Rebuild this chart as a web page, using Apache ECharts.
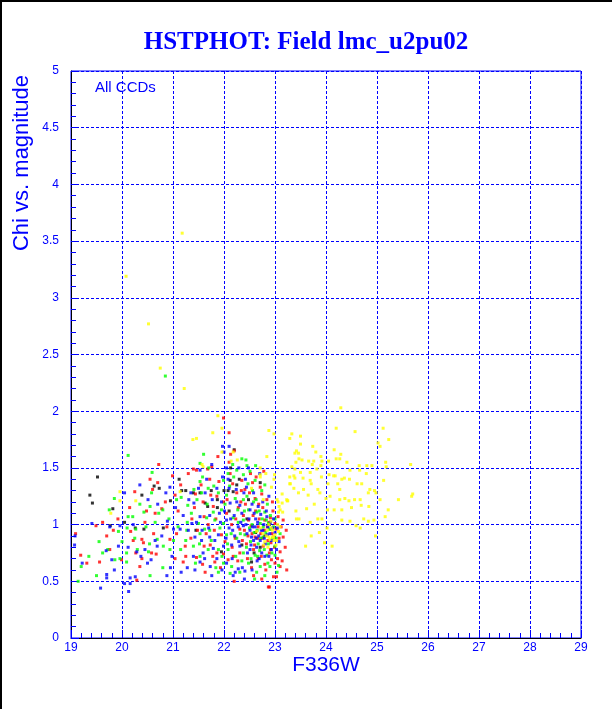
<!DOCTYPE html>
<html><head><meta charset="utf-8">
<script src="https://cdn.jsdelivr.net/npm/echarts@6/dist/echarts.min.js"></script>
<style>html,body{margin:0;padding:0;background:#fff}#c{width:612px;height:709px}</style>
</head><body><div id="c"></div>
<script>
const titleText = "HSTPHOT: Field lmc_u2pu02";
const xName = "F336W";
const yName = "Chi vs. magnitude";
const noteText = "All CCDs";

const blackPts = [[19.52,1.42],[19.37,1.26],[19.42,1.19],[19.82,1.14],[19.77,0.99],[20.26,0.97],[20.39,1.26],[20.63,1.34],[20.73,1.32],[20.43,0.96],[20.81,0.97],[20.95,1.21],[21.12,1.40],[21.17,1.30],[21.25,1.30],[21.40,1.28],[21.53,1.28],[21.63,1.19],[21.68,1.16],[21.87,1.15],[21.87,1.22],[21.95,0.76],[22.00,1.30],[22.08,1.30],[22.12,1.39],[22.13,1.50],[22.18,1.29],[22.20,1.66],[22.30,1.40],[22.54,0.67],[22.59,0.75],[22.71,1.37],[22.71,0.80],[22.89,1.00],[22.45,1.05],[22.62,0.93],
[21.45,0.95],[21.75,1.30],[22.25,1.35],[22.48,1.22],[22.80,0.90],[22.10,1.12],[22.35,0.82],[20.05,1.02]];

const redPts = [[19.09,0.92],[19.19,0.73],[19.31,0.66],[19.49,0.99],[19.56,0.67],[19.70,0.90],[19.76,0.78],[19.83,0.95],[19.99,0.69],[20.17,0.94],[20.22,0.86],[20.25,1.29],[20.27,0.75],[20.29,0.51],[20.35,0.63],[20.39,0.87],[20.39,0.70],[20.42,0.84],[20.48,1.12],[20.58,0.75],[20.60,1.31],[20.65,1.10],[20.67,0.74],[20.70,1.37],[20.72,1.53],[20.78,1.14],[20.88,0.98],[20.94,0.87],[20.99,1.43],[21.04,1.26],[21.04,0.70],[21.07,0.92],[21.10,1.12],[21.20,0.67],[21.24,0.81],[21.25,0.72],
[21.37,1.05],[21.40,1.49],[21.44,1.27],[21.46,1.48],[21.46,0.71],[21.59,1.20],[21.61,1.07],[21.61,0.81],[21.63,0.58],[21.68,1.49],[21.69,1.00],[21.73,0.82],[21.74,1.26],[21.76,1.51],[21.79,1.16],[21.81,0.95],[21.82,0.67],[21.86,1.25],[21.86,0.75],[21.95,0.91],[21.99,1.20],[21.99,0.74],[21.99,1.94],[22.08,0.69],[22.10,1.55],[22.10,1.81],[22.13,1.62],[22.15,1.00],[22.17,1.36],[22.18,0.72],[22.20,1.65],[22.25,1.28],[22.28,1.15],[22.31,0.96],[22.31,0.75],[22.35,1.39],[22.38,1.08],[22.41,1.31],[22.44,0.83],[22.46,0.70],[22.48,1.04],[22.53,0.99],[22.56,1.37],[22.58,0.78],[22.61,1.23],[22.61,0.89],[22.67,0.98],[22.67,0.70],[22.71,1.33],[22.72,0.92],[22.74,1.27],[22.77,0.81],[22.80,1.04],[22.80,0.65],[22.89,0.75],[22.89,0.45],[22.91,1.06],[22.93,0.69],[22.97,0.54],[22.97,0.89],[23.00,1.01],[23.00,0.66],[23.03,0.54],[23.06,1.07],[23.10,0.63],[23.10,0.76],[23.16,1.04],[23.16,0.89],[23.20,0.80],[23.22,0.95],[23.23,0.60],[22.87,0.45],
[22.62,1.12],[22.85,0.98],[22.75,0.88],[22.55,0.92],[22.92,0.84],[22.68,1.18],[22.40,0.95],[22.33,1.20],[22.22,0.88],[22.05,1.10],[22.78,1.47],[22.52,1.45],[22.95,1.20],
[21.35,0.88],[21.42,1.15],[21.48,0.95],[21.55,1.35],[21.58,0.65],[21.65,0.92],[21.72,1.40],[21.78,0.72],[21.84,1.05],[21.90,1.38],[21.93,0.62],[22.02,0.85],[22.06,1.22],[22.12,1.45],[22.16,0.80],[22.23,1.05],[22.27,0.68],[22.34,1.30],[22.36,0.86],[22.42,1.18],[22.47,0.90],[22.50,1.28],[22.54,0.62],[22.57,1.08],[22.60,0.82],[22.63,1.42],[22.66,0.88],[22.69,1.05],[22.73,0.72],[22.76,1.15],[22.79,0.95],[22.82,0.60],[22.84,1.22],[22.86,0.86],[22.88,1.02],[22.91,0.78],[22.94,0.92],[22.96,1.12],[22.99,0.80],[23.02,0.96],[23.05,0.70],[23.08,0.88],[23.12,0.98],[23.14,0.68],[22.58,0.55],[22.74,0.52],[22.20,0.50],[21.88,1.60],[20.45,1.02],[20.62,0.92],[20.85,1.20],[20.15,1.15],[19.92,1.05],[21.15,1.35],[21.30,1.45],[20.55,1.40],[19.62,1.02]];

const greenPts = [[19.14,0.50],[19.20,0.63],[19.35,0.72],[19.50,0.55],[19.62,0.75],[19.72,0.78],[19.75,1.13],[19.85,1.23],[19.86,0.69],[19.93,0.94],[19.96,0.70],[20.09,0.75],[20.09,0.67],[20.10,0.97],[20.12,1.61],[20.12,1.07],[20.21,1.07],[20.27,0.96],[20.30,0.78],[20.43,1.11],[20.47,0.98],[20.52,0.76],[20.54,0.83],[20.55,1.16],[20.55,0.55],[20.58,1.28],[20.59,1.46],[20.69,0.87],[20.72,1.10],[20.80,1.13],[20.81,0.81],[20.94,0.78],[21.01,0.86],[21.07,1.22],[21.15,0.78],[21.16,1.24],[21.25,0.86],[21.27,0.95],[21.28,1.02],[21.29,1.17],[20.85,2.31],
[21.40,0.81],[21.41,1.31],[21.50,1.01],[21.53,1.54],[21.53,1.38],[21.53,0.92],[21.53,0.72],[21.56,1.28],[21.66,1.06],[21.69,1.32],[21.69,0.78],[21.70,1.50],[21.72,0.95],[21.79,1.11],[21.82,1.04],[21.89,1.28],[21.89,0.78],[21.89,0.58],[21.95,1.13],[21.99,1.39],[21.99,1.01],[21.99,0.66],[22.05,1.26],[22.05,0.91],[22.08,1.45],[22.08,0.78],[22.12,0.57],[22.15,0.63],[22.17,1.53],[22.18,1.06],[22.22,1.23],[22.25,0.88],[22.31,0.58],[22.35,1.58],[22.38,1.44],[22.38,1.22],[22.38,1.04],[22.38,0.75],[22.41,0.91],[22.43,1.57],[22.48,1.13],[22.48,0.66],[22.51,1.47],[22.61,1.39],[22.61,0.73],[22.64,1.11],[22.64,0.58],[22.67,0.83],[22.71,1.01],[22.71,0.63],[22.77,0.89],[22.80,1.35],[22.80,1.11],[22.84,0.73],[22.87,1.01],[22.87,0.83],[22.90,0.63],[23.00,1.05],[23.00,0.81],[23.00,0.73],[23.07,0.64],
[22.55,1.00],[22.65,0.95],[22.75,1.05],[22.82,0.93],[22.92,0.96],[22.58,1.20],[22.45,1.25],[22.28,1.02],[22.70,0.77],[22.95,0.88],[22.52,0.85],[22.85,1.18],[21.60,1.62],[22.25,1.48],[22.62,1.52],
[21.36,1.10],[21.44,0.66],[21.47,1.22],[21.52,0.83],[21.58,1.42],[21.62,0.96],[21.67,1.18],[21.75,0.86],[21.80,1.34],[21.84,0.62],[21.92,0.97],[21.96,0.72],[22.02,1.18],[22.07,0.83],[22.11,1.34],[22.14,0.92],[22.19,1.42],[22.23,0.72],[22.27,1.13],[22.32,0.92],[22.35,0.68],[22.40,1.12],[22.44,0.80],[22.47,1.36],[22.50,0.97],[22.53,0.70],[22.56,1.30],[22.59,0.93],[22.63,1.22],[22.66,0.72],[22.69,1.12],[22.72,0.88],[22.74,1.30],[22.77,0.98],[22.79,0.78],[22.83,1.04],[22.86,0.66],[22.89,0.96],[22.91,1.08],[22.94,0.75],[22.97,0.98],[23.02,0.88],[23.04,0.58],[23.10,0.92],[22.60,0.52],[22.80,0.55],[22.45,1.52],[20.35,1.18],[20.65,1.02],[20.25,0.88],[20.92,1.05],[21.10,0.98],[19.55,0.85],[20.00,0.85],[20.80,0.62]];

const bluePts = [[19.07,0.82],[19.08,0.90],[19.22,0.66],[19.41,1.01],[19.58,0.44],[19.69,0.77],[19.70,0.53],[19.70,0.56],[19.76,0.98],[19.80,0.69],[19.93,0.81],[19.96,0.99],[20.05,1.28],[20.05,0.48],[20.12,0.80],[20.13,0.41],[20.16,0.53],[20.16,0.48],[20.26,0.54],[20.29,0.76],[20.37,0.72],[20.50,0.66],[20.51,1.22],[20.57,0.69],[20.65,0.86],[20.69,0.81],[20.78,0.90],[20.86,1.28],[20.88,0.55],[20.89,1.03],[20.94,1.33],[20.98,0.72],[21.01,0.96],[21.14,0.96],[21.16,0.58],[21.20,1.08],[21.28,0.62],[21.30,0.95],[21.31,1.22],
[21.37,1.01],[21.41,1.19],[21.43,0.89],[21.43,0.60],[21.53,1.48],[21.53,1.07],[21.53,0.67],[21.56,0.86],[21.59,0.75],[21.63,1.28],[21.72,1.08],[21.72,0.89],[21.73,0.63],[21.76,1.53],[21.76,0.55],[21.79,0.79],[21.86,0.70],[21.89,0.91],[21.91,1.10],[21.95,1.20],[21.97,1.42],[21.97,1.69],[21.99,0.81],[22.00,1.64],[22.05,1.50],[22.05,1.04],[22.05,0.66],[22.10,1.69],[22.10,1.32],[22.10,0.97],[22.12,1.19],[22.15,0.82],[22.17,0.95],[22.18,0.55],[22.22,0.58],[22.24,1.31],[22.28,0.98],[22.28,0.61],[22.29,1.50],[22.31,1.17],[22.31,0.81],[22.38,0.99],[22.41,0.59],[22.44,1.33],[22.48,1.50],[22.51,1.13],[22.51,0.95],[22.51,0.78],[22.54,0.89],[22.58,1.28],[22.58,0.86],[22.61,0.98],[22.64,0.80],[22.67,1.16],[22.71,0.86],[22.72,1.09],[22.74,0.75],[22.76,0.95],[22.81,0.83],[22.84,1.07],[22.85,0.91],[22.93,0.78],[22.95,0.97],[23.05,0.97],
[22.62,1.05],[22.45,0.92],[22.35,1.10],[22.68,0.90],[22.78,1.00],[22.90,0.92],[22.55,1.18],[22.42,1.40],[22.20,1.08],[22.88,1.25],[22.65,0.68],[22.80,0.72],[23.08,0.85],
[21.35,1.28],[21.40,0.72],[21.46,1.02],[21.50,1.32],[21.57,0.95],[21.62,0.70],[21.66,1.40],[21.70,0.97],[21.77,1.22],[21.82,0.86],[21.86,1.32],[21.93,1.02],[21.96,0.60],[22.01,1.12],[22.04,0.88],[22.08,1.40],[22.13,1.05],[22.16,0.70],[22.21,0.90],[22.25,1.20],[22.29,0.85],[22.33,1.02],[22.36,0.62],[22.39,1.28],[22.43,1.00],[22.46,0.75],[22.49,1.05],[22.53,0.82],[22.56,0.98],[22.59,1.10],[22.63,0.88],[22.66,1.02],[22.69,0.70],[22.73,0.95],[22.76,1.20],[22.79,0.88],[22.83,1.12],[22.86,0.98],[22.88,0.72],[22.91,1.02],[22.93,0.86],[22.97,1.05],[23.00,0.93],[23.03,0.78],[22.70,1.45],[22.55,0.60],[22.40,0.52],[20.22,1.00],[20.45,0.78],[20.70,1.18],[20.95,0.62],[21.05,1.15],[19.85,0.60],[20.35,1.35]];

const yellowPts = [[24.29,2.03],[22.88,1.83],[22.98,1.80],[23.33,1.80],[23.50,1.78],[23.29,1.76],[24.20,1.85],[24.57,1.82],[25.12,1.85],[25.23,1.75],[25.02,1.72],[23.50,1.71],[23.74,1.69],[25.06,1.69],[23.42,1.65],[23.39,1.63],[23.80,1.64],[24.16,1.66],[24.29,1.62],[23.90,1.60],[23.76,1.56],[23.66,1.56],[23.53,1.57],[23.47,1.58],[23.92,1.56],[24.05,1.56],[24.20,1.58],[24.27,1.58],[24.41,1.55],[25.17,1.55],[25.66,1.53],[23.73,1.53],[24.65,1.52],[24.80,1.52],[24.90,1.52],[25.18,1.51],[22.71,1.50],[23.39,1.49],[23.82,1.49],[23.90,1.52],[24.47,1.48],[24.66,1.48],[23.50,1.46],[23.69,1.46],[24.06,1.44],[24.18,1.43],[24.79,1.45],[23.29,1.42],[23.37,1.43],[22.99,1.44],[22.98,1.40],[23.55,1.41],[23.91,1.42],[24.15,1.43],[24.31,1.40],[24.36,1.41],[24.46,1.40],[23.69,1.39],[25.13,1.39],[23.30,1.36],[23.71,1.36],[24.04,1.36],[24.23,1.36],[24.61,1.36],[24.70,1.36],[23.37,1.32],[23.56,1.31],[23.84,1.31],[24.86,1.31],[24.27,1.31],[24.83,1.28],[24.95,1.30],[24.98,1.28],[25.70,1.27],[23.65,1.26],[23.88,1.28],[23.14,1.27],[25.68,1.25],[24.08,1.25],[24.00,1.23],[24.27,1.22],[24.37,1.23],[24.45,1.21],[24.56,1.22],[24.67,1.22],[25.42,1.22],[25.06,1.22],[23.25,1.21],[23.06,1.20],[23.77,1.18],[23.08,1.16],[24.69,1.17],[24.03,1.13],[24.16,1.13],[24.31,1.13],[24.50,1.15],[24.84,1.16],[25.22,1.13],[23.62,1.14],[23.07,1.11],[23.15,1.11],[25.16,1.07],[23.47,1.05],[23.84,1.05],[23.92,1.05],[24.31,1.04],[24.47,1.03],[24.74,1.05],[24.83,1.03],[24.94,1.04],[23.69,1.02],[24.02,0.97],[24.59,0.99],[24.67,0.97],[23.87,0.93],[24.97,0.90],[23.71,0.90],[23.97,0.84],[23.60,0.81],[24.12,0.81],
[21.18,3.57],[20.08,3.19],[20.52,2.77],[20.75,2.38],[21.22,2.20],[21.88,1.96],[21.96,1.85],[21.78,1.81],[21.46,1.76],[21.39,1.75],[22.14,1.56],[22.18,1.64],[21.59,1.51],[22.71,1.42],[22.54,1.32],[22.77,1.22],[19.96,1.29],[19.96,1.21],[19.78,1.10],[20.27,1.21],[21.14,1.29],[21.57,1.53],[21.96,1.64],[22.26,1.57],[22.84,1.60],[22.71,1.44],[22.93,1.33],[23.04,1.22],[23.14,1.19],[23.24,1.21],[23.29,1.36],[23.39,1.41],[23.46,1.63],[23.41,1.55],[23.33,1.51],[23.46,1.28],[23.41,1.12],[23.42,1.05],[23.10,1.13],[23.23,1.22],
[23.07,0.94],[23.00,0.91],[22.95,0.89],[22.88,0.89],[22.80,0.85],[22.90,0.87],[22.98,0.86],[22.85,0.95],[22.64,0.94],[22.92,1.03],[22.82,1.45],[23.03,0.86],[22.97,0.89],[22.76,0.92],[22.93,0.97],[23.05,1.00],[22.86,0.80],[22.72,0.97],
[22.78,0.82],[22.95,0.95],[23.02,0.82],[22.88,1.00],[22.83,0.90],[23.10,0.98]];

const BLUE = '#0000ff';
const chart = echarts.init(document.getElementById('c'), null, {renderer:'canvas'});
function ser(data, color){
  return {type:'scatter', data:data, symbol:'rect', symbolSize:3, itemStyle:{color:color}, silent:true, animation:false};
}
const axisCommon = {
  axisLine:{show:true, onZero:false, lineStyle:{color:'#000', width:1}},
  axisTick:{show:true, inside:true, length:8, lineStyle:{color:BLUE}},
  minorTick:{show:true, splitNumber:5, length:5, lineStyle:{color:BLUE}},
  splitLine:{show:true, lineStyle:{color:BLUE, type:[3,2], width:1}},
  axisLabel:{color:BLUE, fontSize:12, fontFamily:'Liberation Sans'}
};
chart.setOption({
  backgroundColor:'#fff',
  animation:false,
  title:{text:titleText, left:'center', top:25, textStyle:{fontFamily:'Liberation Serif', fontWeight:'bold', fontSize:25, color:BLUE}},
  grid:{left:71, top:71, right:31, bottom:71, show:true, borderColor:BLUE, borderWidth:1, backgroundColor:'transparent'},
  xAxis:Object.assign({type:'value', min:19, max:29, interval:1}, axisCommon, {axisLabel:Object.assign({}, axisCommon.axisLabel, {margin:4})}),
  yAxis:Object.assign({type:'value', min:0, max:5, interval:0.5}, axisCommon, {axisLabel:Object.assign({}, axisCommon.axisLabel, {margin:12})}),
  series:[ser(blackPts,'#000000'), ser(redPts,'#ff0000'), ser(greenPts,'#00ff00'), ser(bluePts,'#0000ff'), ser(yellowPts,'#ffff00')],
  graphic:[
    {type:'rect', shape:{x:0,y:0,width:612,height:2}, style:{fill:'#000'}},
    {type:'rect', shape:{x:0,y:0,width:2,height:709}, style:{fill:'#000'}},
    {type:'text', left:95, top:80, style:{text:noteText, fill:BLUE, font:'15px "Liberation Sans"'}},
    {type:'text', x:326, y:665, style:{text:xName, fill:BLUE, font:'21px "Liberation Sans"', textAlign:'center', textVerticalAlign:'middle'}},
    {type:'text', x:22, y:163, rotation:Math.PI/2, style:{text:yName, fill:BLUE, font:'22px "Liberation Sans"', textAlign:'center', textVerticalAlign:'middle'}}
  ]
});
</script></body></html>
